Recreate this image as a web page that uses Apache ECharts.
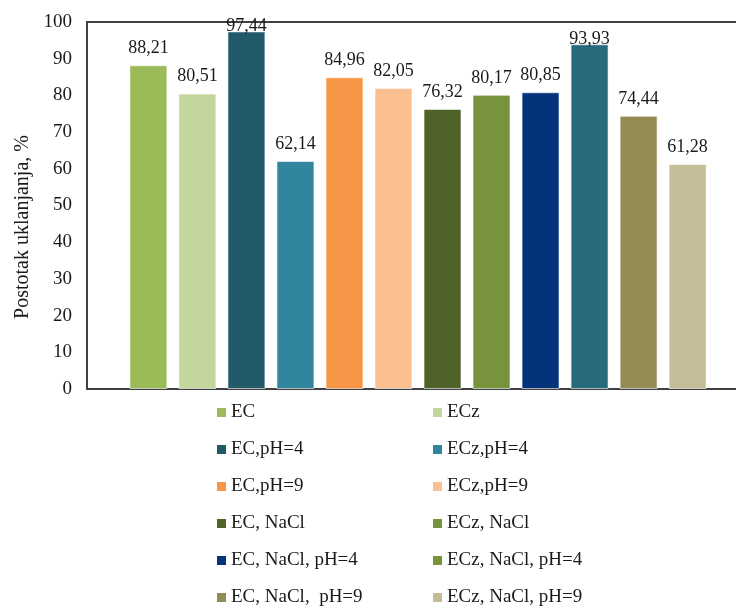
<!DOCTYPE html>
<html>
<head>
<meta charset="utf-8">
<script src="https://cdn.jsdelivr.net/npm/echarts@6/dist/echarts.min.js"></script>
<style>html,body{margin:0;padding:0;background:#fff;overflow:hidden}#c{width:749px;height:607px}</style>
</head>
<body>
<div id="c"></div>
<script>
var seriesNames = ['EC','ECz','EC,pH=4','ECz,pH=4','EC,pH=9','ECz,pH=9','EC, NaCl','ECz, NaCl','EC, NaCl, pH=4','ECz, NaCl, pH=4','EC, NaCl,  pH=9','ECz, NaCl, pH=9'];
var values = [88.21, 80.51, 97.44, 62.14, 84.96, 82.05, 76.32, 80.17, 80.85, 93.93, 74.44, 61.28];
var barColors = ['#9BBB59','#C3D69B','#215968','#31859C','#F79646','#FAC090','#4F6228','#77933C','#05337A','#276A7C','#948A54','#C4BD97'];
var legendColors = ['#9BBB59','#C3D69B','#215968','#31859C','#F79646','#FAC090','#4F6228','#77933C','#05337A','#77933C','#948A54','#C4BD97'];
var yTicks = [0,10,20,30,40,50,60,70,80,90,100];
var yTitle = 'Postotak uklanjanja, %';

var font = 'Liberation Serif';
var series = seriesNames.map(function(n, i){
  return {
    name: n, type: 'bar', data: [values[i]],
    barWidth: 38, barGap: '29%',
    itemStyle: {color: barColors[i], borderColor: 'rgba(255,255,255,0.6)', borderWidth: 1},
    label: {show: true, position: 'top', distance: values[i] > 90 ? -4 : 8, fontFamily: font, fontSize: 18, color: '#1a1a1a',
      formatter: function(p){ return p.value.toFixed(2).replace('.', ','); }}
  };
});
function legendData(idx){
  return idx.map(function(i){ return {name: seriesNames[i], itemStyle: {color: legendColors[i], borderWidth: 0}}; });
}
var legendCommon = {orient: 'vertical', top: 398, height: 300, itemGap: 18, itemWidth: 9, itemHeight: 9, icon: 'rect', selectedMode: false,
  textStyle: {fontFamily: font, fontSize: 19, color: '#1a1a1a'}};
var chart = echarts.init(document.getElementById('c'), null, {renderer: 'canvas'});
chart.setOption({
  animation: false,
  grid: {left: 87, right: 0, top: 22, bottom: 218, show: true, borderColor: '#404040', borderWidth: 2},
  xAxis: {type: 'category', data: [''], axisTick: {show: false}, axisLabel: {show: false},
    axisLine: {show: true, lineStyle: {color: '#404040', width: 2}}},
  yAxis: {type: 'value', min: yTicks[0], max: yTicks[yTicks.length-1], interval: 10,
    axisLine: {show: true, lineStyle: {color: '#404040', width: 2}}, axisTick: {show: false}, splitLine: {show: false},
    axisLabel: {fontFamily: font, fontSize: 19, color: '#1a1a1a', margin: 15}},
  legend: [
    Object.assign({left: 212, data: legendData([0,2,4,6,8,10])}, legendCommon),
    Object.assign({left: 428, data: legendData([1,3,5,7,9,11])}, legendCommon)
  ],
  graphic: [{type: 'text', x: 23, y: 227, rotation: Math.PI/2,
    style: {text: yTitle, font: '20px "Liberation Serif"', fill: '#1a1a1a', align: 'center', verticalAlign: 'middle'}}],
  series: series
});
</script>
</body>
</html>
